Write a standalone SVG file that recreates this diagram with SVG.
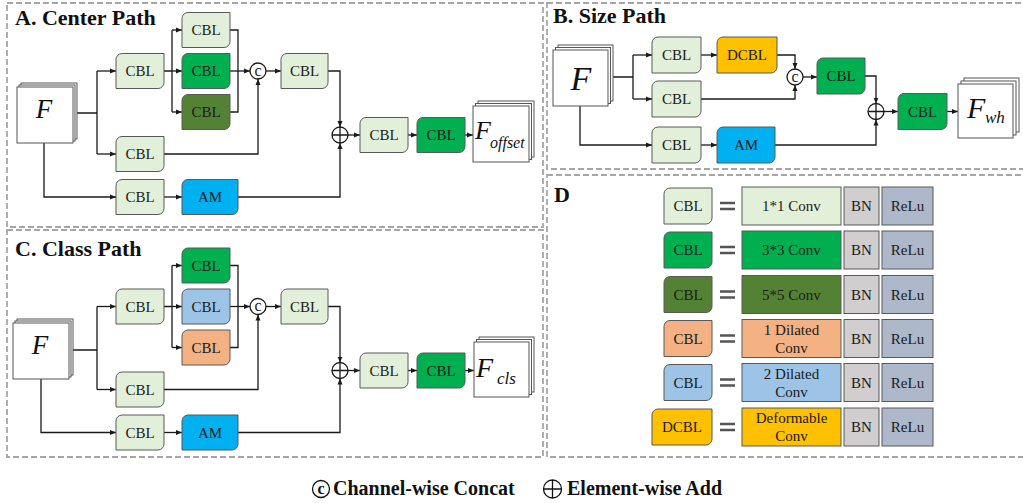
<svg xmlns="http://www.w3.org/2000/svg" width="1023" height="503" viewBox="0 0 1023 503">
<defs>
<marker id="ah" markerWidth="6" markerHeight="6" refX="6" refY="3" orient="auto" markerUnits="userSpaceOnUse"><path d="M0,0.5 L6,3 L0,5.5z" fill="#1a1a1a"/></marker>
<style>
.b{stroke:#595959;stroke-width:1}
.lg{fill:#E2F0D9}.gr{fill:#00B050}.dg{fill:#548235}.or{fill:#F4B183}.lb{fill:#9DC3E6}.yl{fill:#FFC000}.am{fill:#00B0F0}.bn{fill:#D0CECE}.rl{fill:#ADB9CA}
.t{font-family:"Liberation Serif","Times New Roman",serif;font-size:15px;fill:#1a1a1a;text-anchor:middle}
.ttl{font-family:"Liberation Serif","Times New Roman",serif;font-weight:bold;font-size:22px;fill:#111}
.panel{fill:none;stroke:#a6a6a6;stroke-width:1.8;stroke-dasharray:6,3}
.ln{fill:none;stroke:#1a1a1a;stroke-width:1.3}
.ar{marker-end:url(#ah)}
.stk{fill:#fff;stroke:#555;stroke-width:1}
.F{font-family:"Liberation Serif","Times New Roman",serif;font-style:italic;fill:#111}
.op{fill:#fff;stroke:#1a1a1a;stroke-width:1.3}
.ct{font-family:"Liberation Serif","Times New Roman",serif;font-size:16px;fill:#1a1a1a;text-anchor:middle}
.eq{stroke:#555;stroke-width:2.5}
</style>
</defs>
<rect width="1023" height="503" fill="#fff"/>

<!-- panels -->
<rect class="panel" x="7" y="3" width="536" height="224"/>
<rect class="panel" x="7" y="230" width="536" height="227"/>
<rect class="panel" x="547" y="3" width="480" height="166"/>
<rect class="panel" x="547" y="175" width="480" height="282"/>
<text class="ttl" x="15" y="25">A. Center Path</text>
<text class="ttl" x="15" y="256">C. Class Path</text>
<text class="ttl" x="553" y="23">B. Size Path</text>
<text class="ttl" x="554" y="202">D</text>

<!-- connectors -->
<g id="connectors">
<!-- A -->
<path class="ln" d="M77,113 H97 M97,71 V154"/>
<path class="ln ar" d="M97,71 H116"/>
<path class="ln ar" d="M97,154 H116"/>
<path class="ln" d="M164,71 H172 M172,30 V112"/>
<path class="ln ar" d="M172,30 H182"/>
<path class="ln ar" d="M172,71 H182"/>
<path class="ln ar" d="M172,112 H182"/>
<path class="ln" d="M230,30 H238 V112 H230"/>
<path class="ln ar" d="M230,71 H250"/>
<path class="ln ar" d="M266,71 H281"/>
<path class="ln ar" d="M328,71 H340 V127"/>
<path class="ln ar" d="M164,154 H258 V79"/>
<path class="ln ar" d="M44,143 V197 H116"/>
<path class="ln ar" d="M164,197 H182"/>
<path class="ln ar" d="M238,197 H340 V143"/>
<path class="ln ar" d="M348,135 H360"/>
<path class="ln ar" d="M408,135 H417"/>
<path class="ln ar" d="M465,135 H473"/>
<!-- C -->
<path class="ln" d="M73,350 H97 M97,306.5 V389.5"/>
<path class="ln ar" d="M97,306.5 H116"/>
<path class="ln ar" d="M97,389.5 H116"/>
<path class="ln" d="M164,306.5 H172 M172,265.5 V347.5"/>
<path class="ln ar" d="M172,265.5 H182"/>
<path class="ln ar" d="M172,306.5 H182"/>
<path class="ln ar" d="M172,347.5 H182"/>
<path class="ln" d="M230,265.5 H238 V347.5 H230"/>
<path class="ln ar" d="M230,306.5 H250"/>
<path class="ln ar" d="M266,306.5 H281"/>
<path class="ln ar" d="M328,306.5 H340 V362.5"/>
<path class="ln ar" d="M164,389.5 H258 V314.5"/>
<path class="ln ar" d="M41,379 V432.5 H116"/>
<path class="ln ar" d="M164,432.5 H182"/>
<path class="ln ar" d="M238,432.5 H340 V378.5"/>
<path class="ln ar" d="M348,370.5 H360"/>
<path class="ln ar" d="M408,370.5 H417"/>
<path class="ln ar" d="M465,370.5 H474"/>
<!-- B -->
<path class="ln" d="M613,77 H633 M633,55 V99"/>
<path class="ln ar" d="M633,55 H652"/>
<path class="ln ar" d="M633,99 H652"/>
<path class="ln ar" d="M701,55 H717"/>
<path class="ln ar" d="M777,55 H795 V69"/>
<path class="ln ar" d="M701,99 H795 V85"/>
<path class="ln ar" d="M803,77 H817"/>
<path class="ln ar" d="M865,76 H876 V103.5"/>
<path class="ln ar" d="M580,106 V145 H652"/>
<path class="ln ar" d="M701,145 H717"/>
<path class="ln ar" d="M775,145 H876 V119.5"/>
<path class="ln ar" d="M884,111.5 H898"/>
<path class="ln ar" d="M947,111.5 H958"/>
</g>

<!-- Panel A nodes -->
<g id="A_F"><rect class="stk" x="21" y="83" width="56" height="56"/><rect class="stk" x="19" y="85" width="56" height="56"/><rect class="stk" x="17" y="87" width="56" height="56"/><text class="F" x="44" y="118" font-size="27" text-anchor="middle">F</text></g>
<g id="A_cbl1"><path class="b lg" d="M122,53.5 H164 V82.5 A6,6 0 0 1 158,88.5 H116 V59.5 A6,6 0 0 1 122,53.5Z"/><text class="t" x="140" y="76">CBL</text></g>
<g id="A_cbl2"><path class="b lg" d="M188,12.5 H230 V41.5 A6,6 0 0 1 224,47.5 H182 V18.5 A6,6 0 0 1 188,12.5Z"/><text class="t" x="206" y="35">CBL</text></g>
<g id="A_cbl3"><path class="b gr" d="M188,53.5 H230 V82.5 A6,6 0 0 1 224,88.5 H182 V59.5 A6,6 0 0 1 188,53.5Z"/><text class="t" x="206" y="76">CBL</text></g>
<g id="A_cbl4"><path class="b dg" d="M188,94.5 H230 V123.5 A6,6 0 0 1 224,129.5 H182 V100.5 A6,6 0 0 1 188,94.5Z"/><text class="t" x="206" y="117">CBL</text></g>
<g id="A_concat"><circle class="op" cx="258" cy="71" r="8"/><text class="ct" x="258" y="75.5">c</text></g>
<g id="A_cbl5"><path class="b lg" d="M287,53.5 H328 V82.5 A6,6 0 0 1 322,88.5 H281 V59.5 A6,6 0 0 1 287,53.5Z"/><text class="t" x="304.5" y="76">CBL</text></g>
<g id="A_cbl6"><path class="b lg" d="M122,136.5 H164 V165.5 A6,6 0 0 1 158,171.5 H116 V142.5 A6,6 0 0 1 122,136.5Z"/><text class="t" x="140" y="159">CBL</text></g>
<g id="A_cbl7"><path class="b lg" d="M122,179.5 H164 V208.5 A6,6 0 0 1 158,214.5 H116 V185.5 A6,6 0 0 1 122,179.5Z"/><text class="t" x="140" y="202">CBL</text></g>
<g id="A_am"><path class="b am" d="M188,179.5 H238 V208.5 A6,6 0 0 1 232,214.5 H182 V185.5 A6,6 0 0 1 188,179.5Z"/><text class="t" x="210" y="202">AM</text></g>
<g id="A_add"><circle class="op" cx="340" cy="135" r="8"/><path class="ln" d="M332,135 H348 M340,127 V143"/></g>
<g id="A_cbl8"><path class="b lg" d="M366,117.5 H408 V146.5 A6,6 0 0 1 402,152.5 H360 V123.5 A6,6 0 0 1 366,117.5Z"/><text class="t" x="384" y="140">CBL</text></g>
<g id="A_cbl9"><path class="b gr" d="M423,117.5 H465 V146.5 A6,6 0 0 1 459,152.5 H417 V123.5 A6,6 0 0 1 423,117.5Z"/><text class="t" x="441" y="140">CBL</text></g>
<g id="A_out"><rect class="stk" x="478" y="101" width="56" height="56"/><rect class="stk" x="475.5" y="103.5" width="56" height="56"/><rect class="stk" x="473" y="106" width="56" height="56"/><text class="F" x="475" y="139" font-size="26">F</text><text class="F" x="490" y="148" font-size="16">offset</text></g>

<!-- Panel C nodes -->
<g id="C_F"><rect class="stk" x="17" y="319" width="56" height="56"/><rect class="stk" x="15" y="321" width="56" height="56"/><rect class="stk" x="13" y="323" width="56" height="56"/><text class="F" x="40" y="354" font-size="27" text-anchor="middle">F</text></g>
<g id="C_cbl1"><path class="b lg" d="M122,289 H164 V318 A6,6 0 0 1 158,324 H116 V295 A6,6 0 0 1 122,289Z"/><text class="t" x="140" y="311.5">CBL</text></g>
<g id="C_cbl2"><path class="b gr" d="M188,248 H230 V277 A6,6 0 0 1 224,283 H182 V254 A6,6 0 0 1 188,248Z"/><text class="t" x="206" y="270.5">CBL</text></g>
<g id="C_cbl3"><path class="b lb" d="M188,289 H230 V318 A6,6 0 0 1 224,324 H182 V295 A6,6 0 0 1 188,289Z"/><text class="t" x="206" y="311.5">CBL</text></g>
<g id="C_cbl4"><path class="b or" d="M188,330 H230 V359 A6,6 0 0 1 224,365 H182 V336 A6,6 0 0 1 188,330Z"/><text class="t" x="206" y="352.5">CBL</text></g>
<g id="C_concat"><circle class="op" cx="258" cy="306.5" r="8"/><text class="ct" x="258" y="311">c</text></g>
<g id="C_cbl5"><path class="b lg" d="M287,289 H328 V318 A6,6 0 0 1 322,324 H281 V295 A6,6 0 0 1 287,289Z"/><text class="t" x="304.5" y="311.5">CBL</text></g>
<g id="C_cbl6"><path class="b lg" d="M122,372 H164 V401 A6,6 0 0 1 158,407 H116 V378 A6,6 0 0 1 122,372Z"/><text class="t" x="140" y="394.5">CBL</text></g>
<g id="C_cbl7"><path class="b lg" d="M122,415 H164 V444 A6,6 0 0 1 158,450 H116 V421 A6,6 0 0 1 122,415Z"/><text class="t" x="140" y="437.5">CBL</text></g>
<g id="C_am"><path class="b am" d="M188,415 H238 V444 A6,6 0 0 1 232,450 H182 V421 A6,6 0 0 1 188,415Z"/><text class="t" x="210" y="437.5">AM</text></g>
<g id="C_add"><circle class="op" cx="340" cy="370.5" r="8"/><path class="ln" d="M332,370.5 H348 M340,362.5 V378.5"/></g>
<g id="C_cbl8"><path class="b lg" d="M366,353 H408 V382 A6,6 0 0 1 402,388 H360 V359 A6,6 0 0 1 366,353Z"/><text class="t" x="384" y="375.5">CBL</text></g>
<g id="C_cbl9"><path class="b gr" d="M423,353 H465 V382 A6,6 0 0 1 459,388 H417 V359 A6,6 0 0 1 423,353Z"/><text class="t" x="441" y="375.5">CBL</text></g>
<g id="C_out"><rect class="stk" x="479" y="337" width="55" height="55"/><rect class="stk" x="476.5" y="339.5" width="55" height="55"/><rect class="stk" x="474" y="342" width="55" height="55"/><text class="F" x="476" y="377" font-size="28">F</text><text class="F" x="497" y="384" font-size="17">cls</text></g>

<!-- Panel B nodes -->
<g id="B_F"><rect class="stk" x="558" y="45" width="55" height="56"/><rect class="stk" x="555.5" y="47.5" width="55" height="56"/><rect class="stk" x="553" y="50" width="55" height="56"/><text class="F" x="581" y="90" font-size="34" text-anchor="middle">F</text></g>
<g id="B_cbl1"><path class="b lg" d="M658,37 H701 V67 A6,6 0 0 1 695,73 H652 V43 A6,6 0 0 1 658,37Z"/><text class="t" x="676.5" y="60">CBL</text></g>
<g id="B_dcbl"><path class="b yl" d="M723,37 H777 V67 A6,6 0 0 1 771,73 H717 V43 A6,6 0 0 1 723,37Z"/><text class="t" x="747" y="60">DCBL</text></g>
<g id="B_cbl2"><path class="b lg" d="M658,81 H701 V111 A6,6 0 0 1 695,117 H652 V87 A6,6 0 0 1 658,81Z"/><text class="t" x="676.5" y="104">CBL</text></g>
<g id="B_concat"><circle class="op" cx="795" cy="77" r="8"/><text class="ct" x="795" y="81.5">c</text></g>
<g id="B_cbl3"><path class="b gr" d="M823,58 H865 V88 A6,6 0 0 1 859,94 H817 V64 A6,6 0 0 1 823,58Z"/><text class="t" x="841" y="81">CBL</text></g>
<g id="B_cbl4"><path class="b lg" d="M658,127 H701 V157 A6,6 0 0 1 695,163 H652 V133 A6,6 0 0 1 658,127Z"/><text class="t" x="676.5" y="150">CBL</text></g>
<g id="B_am"><path class="b am" d="M723,127 H775 V157 A6,6 0 0 1 769,163 H717 V133 A6,6 0 0 1 723,127Z"/><text class="t" x="746" y="150">AM</text></g>
<g id="B_add"><circle class="op" cx="876" cy="111.5" r="8"/><path class="ln" d="M868,111.5 H884 M876,103.5 V119.5"/></g>
<g id="B_cbl5"><path class="b gr" d="M904,93.5 H947 V123.5 A6,6 0 0 1 941,129.5 H898 V99.5 A6,6 0 0 1 904,93.5Z"/><text class="t" x="922.5" y="116.5">CBL</text></g>
<g id="B_out"><rect class="stk" x="964" y="78" width="55" height="54"/><rect class="stk" x="961" y="81" width="55" height="54"/><rect class="stk" x="958" y="84" width="55" height="54"/><text class="F" x="967" y="118" font-size="30">F</text><text class="F" x="985" y="123" font-size="17">wh</text></g>

<!-- Panel D legend -->
<g id="D_row1"><path class="b lg" d="M670,188 H712 V218 A6,6 0 0 1 706,224 H664 V194 A6,6 0 0 1 670,188Z"/><text class="t" x="688" y="211">CBL</text><path class="eq" d="M720,203 H735 M720,209 H735"/><rect class="b lg" x="742" y="187" width="99" height="38"/><text class="t" x="791.5" y="211">1*1 Conv</text><rect class="b bn" x="844" y="187" width="35" height="38"/><text class="t" x="861.5" y="211">BN</text><rect class="b rl" x="882" y="187" width="51" height="38"/><text class="t" x="907.5" y="211">ReLu</text></g>
<g id="D_row2"><path class="b gr" d="M670,232 H712 V262 A6,6 0 0 1 706,268 H664 V238 A6,6 0 0 1 670,232Z"/><text class="t" x="688" y="255">CBL</text><path class="eq" d="M720,247 H735 M720,253 H735"/><rect class="b gr" x="742" y="231" width="99" height="38"/><text class="t" x="791.5" y="255">3*3 Conv</text><rect class="b bn" x="844" y="231" width="35" height="38"/><text class="t" x="861.5" y="255">BN</text><rect class="b rl" x="882" y="231" width="51" height="38"/><text class="t" x="907.5" y="255">ReLu</text></g>
<g id="D_row3"><path class="b dg" d="M670,276.5 H712 V306.5 A6,6 0 0 1 706,312.5 H664 V282.5 A6,6 0 0 1 670,276.5Z"/><text class="t" x="688" y="299.5">CBL</text><path class="eq" d="M720,291.5 H735 M720,297.5 H735"/><rect class="b dg" x="742" y="275.5" width="99" height="38"/><text class="t" x="791.5" y="299.5">5*5 Conv</text><rect class="b bn" x="844" y="275.5" width="35" height="38"/><text class="t" x="861.5" y="299.5">BN</text><rect class="b rl" x="882" y="275.5" width="51" height="38"/><text class="t" x="907.5" y="299.5">ReLu</text></g>
<g id="D_row4"><path class="b or" d="M670,320.5 H712 V350.5 A6,6 0 0 1 706,356.5 H664 V326.5 A6,6 0 0 1 670,320.5Z"/><text class="t" x="688" y="343.5">CBL</text><path class="eq" d="M720,335.5 H735 M720,341.5 H735"/><rect class="b or" x="742" y="319.5" width="99" height="38"/><text class="t" x="791.5" y="334.5">1 Dilated</text><text class="t" x="791.5" y="352.5">Conv</text><rect class="b bn" x="844" y="319.5" width="35" height="38"/><text class="t" x="861.5" y="343.5">BN</text><rect class="b rl" x="882" y="319.5" width="51" height="38"/><text class="t" x="907.5" y="343.5">ReLu</text></g>
<g id="D_row5"><path class="b lb" d="M670,364.5 H712 V394.5 A6,6 0 0 1 706,400.5 H664 V370.5 A6,6 0 0 1 670,364.5Z"/><text class="t" x="688" y="387.5">CBL</text><path class="eq" d="M720,379.5 H735 M720,385.5 H735"/><rect class="b lb" x="742" y="363.5" width="99" height="38"/><text class="t" x="791.5" y="378.5">2 Dilated</text><text class="t" x="791.5" y="396.5">Conv</text><rect class="b bn" x="844" y="363.5" width="35" height="38"/><text class="t" x="861.5" y="387.5">BN</text><rect class="b rl" x="882" y="363.5" width="51" height="38"/><text class="t" x="907.5" y="387.5">ReLu</text></g>
<g id="D_row6"><path class="b yl" d="M658,409 H712 V439 A6,6 0 0 1 706,445 H652 V415 A6,6 0 0 1 658,409Z"/><text class="t" x="682" y="432">DCBL</text><path class="eq" d="M720,424 H735 M720,430 H735"/><rect class="b yl" x="742" y="408" width="99" height="38"/><text class="t" x="791.5" y="423">Deformable</text><text class="t" x="791.5" y="441">Conv</text><rect class="b bn" x="844" y="408" width="35" height="38"/><text class="t" x="861.5" y="432">BN</text><rect class="b rl" x="882" y="408" width="51" height="38"/><text class="t" x="907.5" y="432">ReLu</text></g>

<!-- footer -->
<g id="footer">
<circle cx="321" cy="489" r="8.5" fill="none" stroke="#111" stroke-width="1.3"/><text x="321" y="494" font-family="Liberation Serif, serif" font-size="16" font-weight="bold" text-anchor="middle" fill="#111">c</text>
<text x="333" y="495" font-family="Liberation Serif, serif" font-size="20" font-weight="bold" fill="#111">Channel-wise Concat</text>
<circle cx="552.5" cy="489" r="9" fill="none" stroke="#111" stroke-width="1.3"/><path d="M543.5,489 H561.5 M552.5,480 V498" stroke="#111" stroke-width="1.3"/>
<text x="567" y="495" font-family="Liberation Serif, serif" font-size="20" font-weight="bold" fill="#111">Element-wise Add</text>
</g>
</svg>
